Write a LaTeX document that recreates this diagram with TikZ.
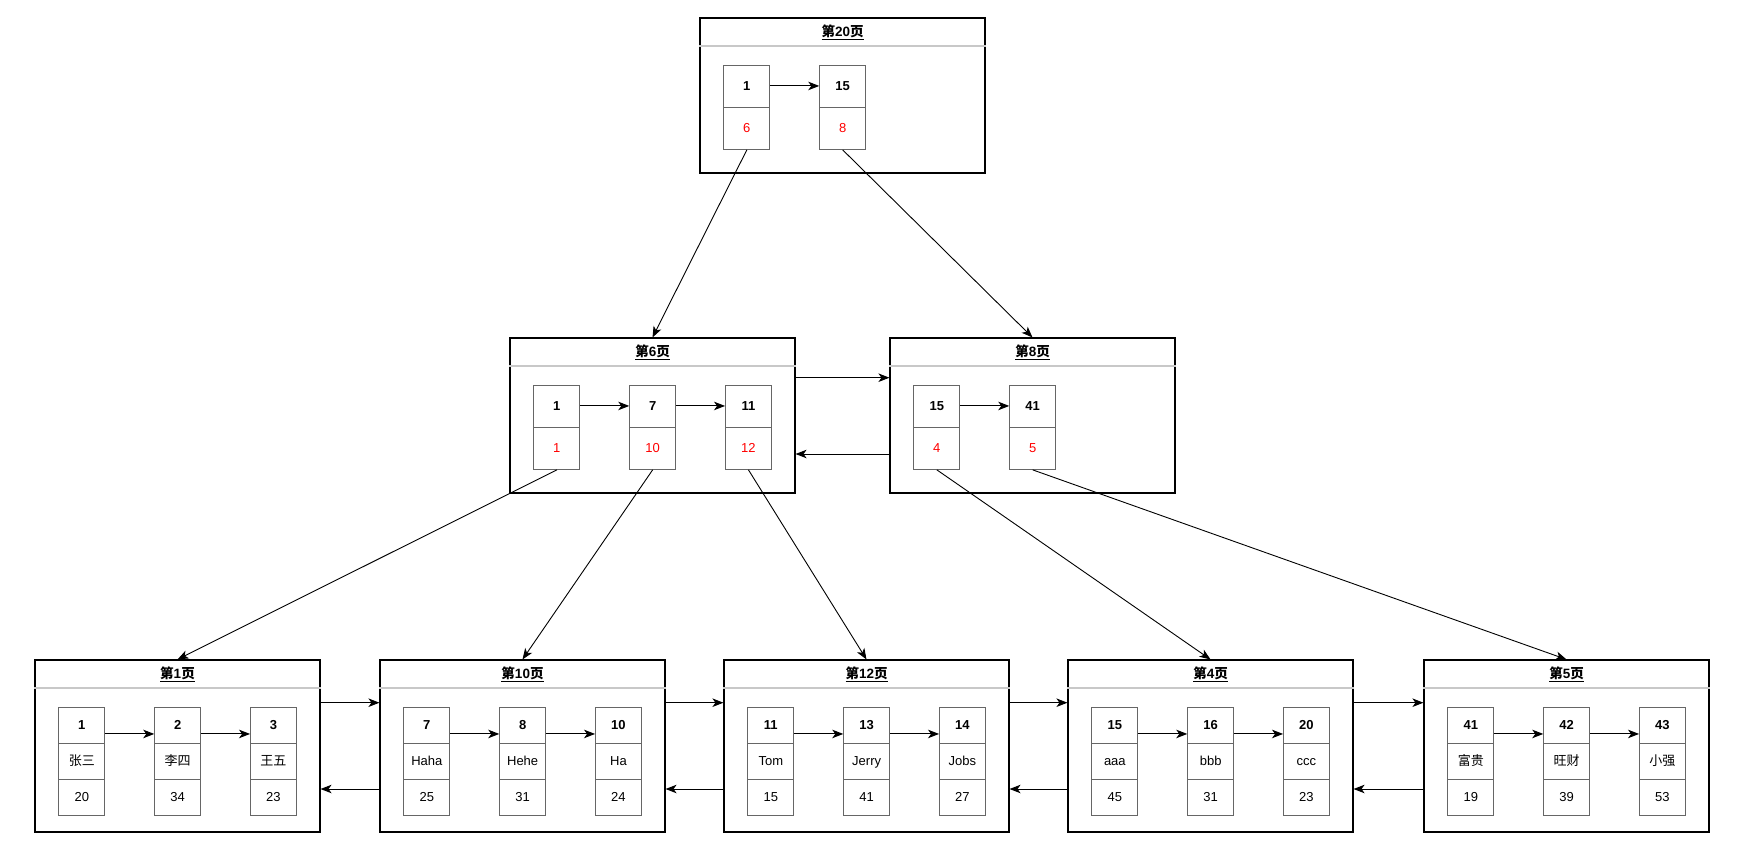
\documentclass[tikz,border=0pt]{standalone}
\usepackage{fontspec}
\setmainfont{Liberation Sans}
\newfontfamily\cjk{Noto Sans CJK SC}
\usepackage{tikz}
\usetikzlibrary{arrows.meta,positioning,shapes.multipart}
\usepackage{xcolor}
\definecolor{keyred}{RGB}{255,0,0}
\definecolor{cellgray}{RGB}{102,102,102}
\definecolor{headgray}{RGB}{200,200,200}
\newcommand{\cellstrut}{\rule[-4pt]{0pt}{16pt}}

\begin{document}
\begin{tikzpicture}[x=1pt, y=-1pt,
      every node/.style={font=\fontsize{13}{15}\selectfont},
      pagebox/.style={
        rectangle, draw, line width=1.1pt, inner sep=0pt,
        minimum width=285pt, minimum height=155pt
      },
      leafpage/.style={pagebox, minimum height=172pt},
      pagetitle/.style={inner sep=0pt, font=\fontsize{13.5}{15}\selectfont},
      headline/.style={headgray, line width=2pt},
      rec/.style={
        rectangle split, rectangle split parts=2, draw=cellgray,
        line width=0.8pt, minimum width=46pt, inner xsep=2pt,
        inner ysep=12.5pt, font=\fontsize{13}{15}\selectfont\cellstrut
      },
      leafrec/.style={rec, rectangle split parts=3, inner ysep=9.5pt},
      arr/.style={-{Stealth[length=11pt, width=8.5pt, inset=3pt]}, line width=1pt},
      treearr/.style={-{Stealth[length=11pt, width=8.5pt, inset=3pt]}, line width=0.9pt}
    ]
    \useasboundingbox[fill=white] (0,0) rectangle (1746,857);

    % ===== Pages =====
    \node[pagebox] (p20) at (842.5, 95.5) {};
    \node[pagebox] (p6) at (652.5, 415.5) {};
    \node[pagebox] (p8) at (1032.5, 415.5) {};
    \node[leafpage] (p1) at (177.5, 746) {};
    \node[leafpage] (p10) at (522.5, 746) {};
    \node[leafpage] (p12) at (866.5, 746) {};
    \node[leafpage] (p4) at (1210.5, 746) {};
    \node[leafpage] (p5) at (1566.5, 746) {};

    % ===== Page titles and header lines =====
    \node[pagetitle] (h20) at ([yshift=-14.5pt]p20.north) {\underline{\textbf{{\cjk 第}20{\cjk 页}}}};
    \node[pagetitle] (h6) at ([yshift=-14.5pt]p6.north) {\underline{\textbf{{\cjk 第}6{\cjk 页}}}};
    \node[pagetitle] (h8) at ([yshift=-14.5pt]p8.north) {\underline{\textbf{{\cjk 第}8{\cjk 页}}}};
    \node[pagetitle] (h1) at ([yshift=-14.5pt]p1.north) {\underline{\textbf{{\cjk 第}1{\cjk 页}}}};
    \node[pagetitle] (h10) at ([yshift=-14.5pt]p10.north) {\underline{\textbf{{\cjk 第}10{\cjk 页}}}};
    \node[pagetitle] (h12) at ([yshift=-14.5pt]p12.north) {\underline{\textbf{{\cjk 第}12{\cjk 页}}}};
    \node[pagetitle] (h4) at ([yshift=-14.5pt]p4.north) {\underline{\textbf{{\cjk 第}4{\cjk 页}}}};
    \node[pagetitle] (h5) at ([yshift=-14.5pt]p5.north) {\underline{\textbf{{\cjk 第}5{\cjk 页}}}};
    \draw[headline] ([yshift=-29pt]p20.north west) -- ([yshift=-29pt]p20.north east);
    \draw[headline] ([yshift=-29pt]p6.north west) -- ([yshift=-29pt]p6.north east);
    \draw[headline] ([yshift=-29pt]p8.north west) -- ([yshift=-29pt]p8.north east);
    \draw[headline] ([yshift=-29pt]p1.north west) -- ([yshift=-29pt]p1.north east);
    \draw[headline] ([yshift=-29pt]p10.north west) -- ([yshift=-29pt]p10.north east);
    \draw[headline] ([yshift=-29pt]p12.north west) -- ([yshift=-29pt]p12.north east);
    \draw[headline] ([yshift=-29pt]p4.north west) -- ([yshift=-29pt]p4.north east);
    \draw[headline] ([yshift=-29pt]p5.north west) -- ([yshift=-29pt]p5.north east);

    % ===== Root page records =====
    \node[rec, below right=48pt and 24pt of p20.north west] (t1)
      {\textbf{1}\nodepart{two}\textcolor{keyred}{6}};
    \node[rec, right=49pt of t1] (t15)
      {\textbf{15}\nodepart{two}\textcolor{keyred}{8}};

    % ===== Inner page records =====
    \node[rec, below right=48pt and 24pt of p6.north west] (m1)
      {\textbf{1}\nodepart{two}\textcolor{keyred}{1}};
    \node[rec, right=49pt of m1] (m7)
      {\textbf{7}\nodepart{two}\textcolor{keyred}{10}};
    \node[rec, right=49pt of m7] (m11)
      {\textbf{11}\nodepart{two}\textcolor{keyred}{12}};
    \node[rec, below right=48pt and 24pt of p8.north west] (m15)
      {\textbf{15}\nodepart{two}\textcolor{keyred}{4}};
    \node[rec, right=49pt of m15] (m41)
      {\textbf{41}\nodepart{two}\textcolor{keyred}{5}};

    % ===== Leaf page records =====
    \node[leafrec, below right=48pt and 24pt of p1.north west] (l1)
      {\textbf{1}\nodepart{two}{\cjk 张三}\nodepart{three}20};
    \node[leafrec, right=49pt of l1] (l2)
      {\textbf{2}\nodepart{two}{\cjk 李四}\nodepart{three}34};
    \node[leafrec, right=49pt of l2] (l3)
      {\textbf{3}\nodepart{two}{\cjk 王五}\nodepart{three}23};
    \node[leafrec, below right=48pt and 24pt of p10.north west] (l7)
      {\textbf{7}\nodepart{two}Haha\nodepart{three}25};
    \node[leafrec, right=49pt of l7] (l8)
      {\textbf{8}\nodepart{two}Hehe\nodepart{three}31};
    \node[leafrec, right=49pt of l8] (l10)
      {\textbf{10}\nodepart{two}Ha\nodepart{three}24};
    \node[leafrec, below right=48pt and 24pt of p12.north west] (l11)
      {\textbf{11}\nodepart{two}Tom\nodepart{three}15};
    \node[leafrec, right=49pt of l11] (l13)
      {\textbf{13}\nodepart{two}Jerry\nodepart{three}41};
    \node[leafrec, right=49pt of l13] (l14)
      {\textbf{14}\nodepart{two}Jobs\nodepart{three}27};
    \node[leafrec, below right=48pt and 24pt of p4.north west] (l15)
      {\textbf{15}\nodepart{two}aaa\nodepart{three}45};
    \node[leafrec, right=49pt of l15] (l16)
      {\textbf{16}\nodepart{two}bbb\nodepart{three}31};
    \node[leafrec, right=49pt of l16] (l20)
      {\textbf{20}\nodepart{two}ccc\nodepart{three}23};
    \node[leafrec, below right=48pt and 24pt of p5.north west] (l41)
      {\textbf{41}\nodepart{two}{\cjk 富贵}\nodepart{three}19};
    \node[leafrec, right=49pt of l41] (l42)
      {\textbf{42}\nodepart{two}{\cjk 旺财}\nodepart{three}39};
    \node[leafrec, right=49pt of l42] (l43)
      {\textbf{43}\nodepart{two}{\cjk 小强}\nodepart{three}53};

    % ===== Arrows: key to next key inside a page =====
    \draw[arr] ([yshift=-20.5pt]t1.north east) -- ([yshift=-20.5pt]t15.north west);
    \draw[arr] ([yshift=-20.5pt]m1.north east) -- ([yshift=-20.5pt]m7.north west);
    \draw[arr] ([yshift=-20.5pt]m7.north east) -- ([yshift=-20.5pt]m11.north west);
    \draw[arr] ([yshift=-20.5pt]m15.north east) -- ([yshift=-20.5pt]m41.north west);
    \draw[arr] ([yshift=-26.5pt]l1.north east) -- ([yshift=-26.5pt]l2.north west);
    \draw[arr] ([yshift=-26.5pt]l2.north east) -- ([yshift=-26.5pt]l3.north west);
    \draw[arr] ([yshift=-26.5pt]l7.north east) -- ([yshift=-26.5pt]l8.north west);
    \draw[arr] ([yshift=-26.5pt]l8.north east) -- ([yshift=-26.5pt]l10.north west);
    \draw[arr] ([yshift=-26.5pt]l11.north east) -- ([yshift=-26.5pt]l13.north west);
    \draw[arr] ([yshift=-26.5pt]l13.north east) -- ([yshift=-26.5pt]l14.north west);
    \draw[arr] ([yshift=-26.5pt]l15.north east) -- ([yshift=-26.5pt]l16.north west);
    \draw[arr] ([yshift=-26.5pt]l16.north east) -- ([yshift=-26.5pt]l20.north west);
    \draw[arr] ([yshift=-26.5pt]l41.north east) -- ([yshift=-26.5pt]l42.north west);
    \draw[arr] ([yshift=-26.5pt]l42.north east) -- ([yshift=-26.5pt]l43.north west);

    % ===== Arrows: records down to child pages =====
    \draw[treearr] (t1.south) -- (p6.north);
    \draw[treearr] (t15.south) -- (p8.north);
    \draw[treearr] (m1.south) -- (p1.north);
    \draw[treearr] (m7.south) -- (p10.north);
    \draw[treearr] (m11.south) -- (p12.north);
    \draw[treearr] (m15.south) -- (p4.north);
    \draw[treearr] (m41.south) -- (p5.north);

    % ===== Arrows: sibling pages linked both ways =====
    \draw[arr] ([yshift=37.8pt]p6.east) -- ([yshift=37.8pt]p8.west);
    \draw[arr] ([yshift=-38.5pt]p8.west) -- ([yshift=-38.5pt]p6.east);
    \draw[arr] ([yshift=43.3pt]p1.east) -- ([yshift=43.3pt]p10.west);
    \draw[arr] ([yshift=-43pt]p10.west) -- ([yshift=-43pt]p1.east);
    \draw[arr] ([yshift=43.3pt]p10.east) -- ([yshift=43.3pt]p12.west);
    \draw[arr] ([yshift=-43pt]p12.west) -- ([yshift=-43pt]p10.east);
    \draw[arr] ([yshift=43.3pt]p12.east) -- ([yshift=43.3pt]p4.west);
    \draw[arr] ([yshift=-43pt]p4.west) -- ([yshift=-43pt]p12.east);
    \draw[arr] ([yshift=43.3pt]p4.east) -- ([yshift=43.3pt]p5.west);
    \draw[arr] ([yshift=-43pt]p5.west) -- ([yshift=-43pt]p4.east);
  \end{tikzpicture}
\end{document}
